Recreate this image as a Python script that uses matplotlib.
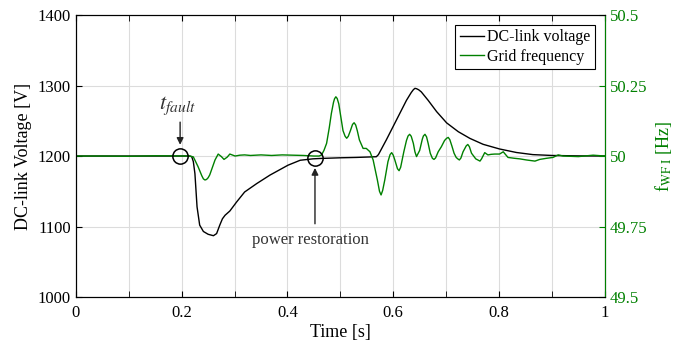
import matplotlib
matplotlib.use('Agg')
import matplotlib.pyplot as plt
from matplotlib.ticker import MultipleLocator

plt.rcParams['font.family'] = 'Liberation Serif'
plt.rcParams['mathtext.fontset'] = 'stix'

# DC-link voltage [V] over time [s]
t_dc = [0, 0.10, 0.20, 0.215, 0.219, 0.222, 0.225, 0.229, 0.234, 0.241, 0.250,
        0.260, 0.266, 0.272, 0.277, 0.282, 0.291, 0.304, 0.319, 0.342, 0.367,
        0.401, 0.424, 0.448, 0.461, 0.50, 0.53, 0.568, 0.572, 0.587, 0.606,
        0.625, 0.634, 0.638, 0.641, 0.644, 0.648, 0.653, 0.666, 0.682, 0.701,
        0.723, 0.745, 0.770, 0.801, 0.833, 0.864, 0.90, 0.95, 1.0]
v_dc = [1200, 1200, 1200, 1200, 1199, 1192, 1175, 1128, 1102, 1093, 1089,
        1087, 1090, 1102, 1111, 1116, 1122, 1135, 1149, 1161, 1173,
        1187, 1194, 1196, 1196.5, 1197.5, 1198, 1199, 1202, 1223, 1251,
        1279, 1290, 1294, 1296, 1295.5, 1294, 1291, 1279, 1263, 1247,
        1234.5, 1225, 1216.6, 1210, 1205, 1202, 1200.8, 1200.2, 1200]

# grid frequency [Hz] over time [s]
t_f = [0, 0.05, 0.10, 0.15, 0.20, 0.215, 0.222, 0.231, 0.238, 0.241, 0.244,
       0.247, 0.250, 0.253, 0.258, 0.263, 0.269, 0.275, 0.280, 0.286, 0.291,
       0.301, 0.31, 0.319, 0.33, 0.35, 0.37, 0.39, 0.41, 0.43, 0.45, 0.46,
       0.4645, 0.469, 0.474, 0.479, 0.483, 0.487, 0.489, 0.4915, 0.494, 0.497,
       0.500, 0.505, 0.509, 0.512, 0.515, 0.519, 0.523, 0.526, 0.529, 0.532,
       0.536, 0.543, 0.549, 0.556, 0.562, 0.566, 0.570, 0.574, 0.577, 0.580,
       0.584, 0.590, 0.594, 0.597, 0.600, 0.603, 0.608, 0.611, 0.614, 0.620,
       0.625, 0.628, 0.631, 0.634, 0.638, 0.641, 0.644, 0.650, 0.655, 0.657,
       0.660, 0.663, 0.666, 0.670, 0.674, 0.677, 0.680, 0.685, 0.691, 0.697,
       0.701, 0.704, 0.707, 0.711, 0.715, 0.719, 0.722, 0.725, 0.728, 0.732,
       0.738, 0.741, 0.744, 0.748, 0.756, 0.761, 0.764, 0.767, 0.773, 0.779,
       0.785, 0.792, 0.801, 0.808, 0.817, 0.829, 0.839, 0.852, 0.868, 0.877,
       0.890, 0.902, 0.912, 0.921, 0.95, 0.978, 1.0]
f_grid = [50.0, 50.0, 49.999, 50.001, 50.0, 50.0, 49.997, 49.962, 49.93, 49.919, 49.915,
          49.917, 49.923, 49.933, 49.96, 49.986, 50.007, 49.998, 49.988, 49.996, 50.007,
          50.0, 50.003, 50.004, 50.002, 50.004, 50.002, 50.004, 50.003, 50.002, 50.0, 50.0,
          50.004, 50.02, 50.045, 50.1, 50.151, 50.19, 50.203, 50.21, 50.204, 50.185,
          50.15, 50.09, 50.07, 50.063, 50.07, 50.09, 50.112, 50.118, 50.11, 50.09,
          50.057, 50.027, 50.027, 50.015, 49.986, 49.95, 49.915, 49.875, 49.862, 49.878,
          49.915, 49.98, 50.005, 50.012, 50.003, 49.986, 49.955, 49.948, 49.96, 50.015,
          50.055, 50.071, 50.077, 50.07, 50.045, 50.015, 49.998, 50.02, 50.06, 50.071,
          50.077, 50.068, 50.045, 50.01, 49.992, 49.988, 49.993, 50.015, 50.033, 50.055,
          50.063, 50.066, 50.058, 50.035, 50.01, 49.995, 49.99, 49.986, 49.993, 50.015,
          50.036, 50.041, 50.033, 50.01, 49.99, 49.985, 49.982, 49.99, 50.012, 50.004,
          50.006, 50.007, 50.007, 50.015, 49.995, 49.992, 49.99, 49.986, 49.982, 49.988,
          49.992, 49.995, 50.004, 50.0, 49.998, 50.003, 50.0]

# event markers (time, voltage)
t_fault = 0.197
t_restore = 0.452

green = '#008000'

fig = plt.figure(figsize=(6.78, 3.45), dpi=100)
ax1 = fig.add_axes([0.112, 0.139, 0.780, 0.8175])
ax2 = ax1.twinx()

l1, = ax1.plot(t_dc, v_dc, color='black', lw=1.0, label='DC-link voltage')
l2, = ax2.plot(t_f, f_grid, color=green, lw=1.0, label='Grid frequency')

ax1.set_xlim(0, 1)
ax1.set_ylim(1000, 1400)
ax2.set_ylim(49.5, 50.5)
ax1.xaxis.set_major_locator(MultipleLocator(0.2))
ax1.xaxis.set_minor_locator(MultipleLocator(0.1))
ax1.yaxis.set_major_locator(MultipleLocator(100))
ax2.yaxis.set_major_locator(MultipleLocator(0.25))
ax1.xaxis.set_major_formatter(plt.FuncFormatter(lambda v, p: f'{v:g}'))
ax2.yaxis.set_major_formatter(plt.FuncFormatter(lambda v, p: f'{v:g}'))

ax1.grid(True, which='both', axis='x', color='#dcdcdc', lw=0.8)
ax1.grid(True, which='major', axis='y', color='#dcdcdc', lw=0.8)
ax1.set_axisbelow(True)

ax1.tick_params(which='both', direction='in', top=True, labelsize=12, length=4)
ax1.tick_params(axis='x', pad=6)
ax1.tick_params(axis='y', right=False)
ax2.tick_params(direction='in', colors=green, labelsize=12, length=4)
ax2.spines['right'].set_color(green)

ax1.set_xlabel('Time [s]', fontsize=13, labelpad=2)
ax1.set_ylabel('DC-link Voltage [V]', fontsize=13, labelpad=4)
ax2.set_ylabel(r'f$_{\mathrm{WF\ I}}$ [Hz]', fontsize=13, color=green, labelpad=4)

# event circles and arrows, in voltage coordinates but on top of both lines
ax2.plot([t_fault, t_restore], [1200, 1197], 'o', ms=11, mfc='none', mec='black',
         mew=1.1, transform=ax1.transData)
ax2.annotate('', xy=(t_fault, 1212), xytext=(t_fault, 1252),
             xycoords=ax1.transData, textcoords=ax1.transData,
             arrowprops=dict(arrowstyle='-|>', color='#222222', lw=1.0, mutation_scale=10))
ax2.text(0.193, 1272, r'$t_{fault}$', transform=ax1.transData, ha='center', va='center',
         fontsize=16, color='#333333')
ax2.annotate('', xy=(t_restore, 1187), xytext=(t_restore, 1100),
             xycoords=ax1.transData, textcoords=ax1.transData,
             arrowprops=dict(arrowstyle='-|>', color='#222222', lw=1.0, mutation_scale=10))
ax2.text(0.444, 1081, 'power restoration', transform=ax1.transData, ha='center',
         va='center', fontsize=12, color='#333333')

leg = ax2.legend([l1, l2], ['DC-link voltage', 'Grid frequency'], loc='upper right',
                 fontsize=11.5, fancybox=False, edgecolor='black', framealpha=1,
                 handlelength=1.5, handletextpad=0.2, borderpad=0.3, labelspacing=0.2,
                 borderaxespad=0.6)
leg.get_frame().set_linewidth(0.8)

fig.savefig('out.png', dpi=100)
